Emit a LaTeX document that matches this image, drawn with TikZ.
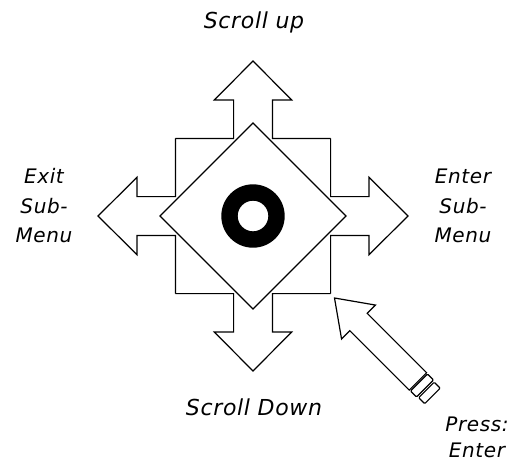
\documentclass[tikz,border=0pt]{standalone}
\usepackage{fontspec}
\setmainfont{DejaVu Sans}
\newfontfamily\lblfont[LetterSpace=3]{DejaVu Sans}
\usepackage{tikz}
\usetikzlibrary{calc}

% sizes of the joystick cross (in px of the reference)
\newcommand{\shaftw}{19.4}
\newcommand{\headw}{38.7}
\newcommand{\headb}{116}
\newcommand{\tipd}{155}
\newcommand{\sqh}{77.6}

\begin{document}
\begin{tikzpicture}[
    x=1pt, y=-1pt,
    line width=1.2pt,
    outline/.style={draw=black, line join=miter},
    lbl/.style={font=\lblfont\itshape\fontsize{20}{29.5}\selectfont, align=center, inner sep=0pt},
    scrl/.style={font=\lblfont\itshape\fontsize{22}{24}\selectfont, inner sep=0pt}
]
    \useasboundingbox (0,0) rectangle (514,461);
    \coordinate (ctr) at (253,216);

    % Cross with four arrows (one quarter per turn)
    \foreach \r in {0,90,180,270} {
        \draw [outline, shift={(ctr)}, rotate=\r]
            (-\sqh,-\sqh) -- (-\shaftw,-\sqh) -- (-\shaftw,-\headb) -- (-\headw,-\headb)
            -- (0,-\tipd) -- (\headw,-\headb) -- (\shaftw,-\headb) -- (\shaftw,-\sqh)
            -- (\sqh,-\sqh);
    }

    % Button
    \draw [outline, fill=white] ($(ctr)+(0,-93)$) -- ($(ctr)+(93,0)$)
        -- ($(ctr)+(0,93)$) -- ($(ctr)+(-93,0)$) -- cycle;
    \fill [even odd rule] (ctr) circle (31.7) (ctr) circle (15.3);

    % Press arrow
    \begin{scope}[shift={(334.5,298)}, rotate=-45]
        \coordinate (tip) at (0,0);
        \draw [outline] (tip) -- (34,-24) -- (34,-12.3) -- (118,-12.3)
            -- (118,12.3) -- (34,12.3) -- (34,24) -- cycle;
        \draw [rounded corners=1pt] (119.5,-12) rectangle (128,12);
        \draw [rounded corners=1pt] (130,-11) rectangle (138.5,11);
    \end{scope}

    % Labels
    \node (up)    [scrl, anchor=base] at (254,28)  {Scroll up};
    \node (down)  [scrl, anchor=base] at (254,415) {Scroll Down};
    \node (exit)  [lbl] at (44,206)  {Exit\\Sub-\\Menu};
    \node (enter) [lbl] at (463,206) {Enter\\Sub-\\Menu};
    \node (press) [lbl, font=\lblfont\itshape\fontsize{20}{26}\selectfont] at (477,437) {Press:\\Enter};

\end{tikzpicture}
\end{document}
